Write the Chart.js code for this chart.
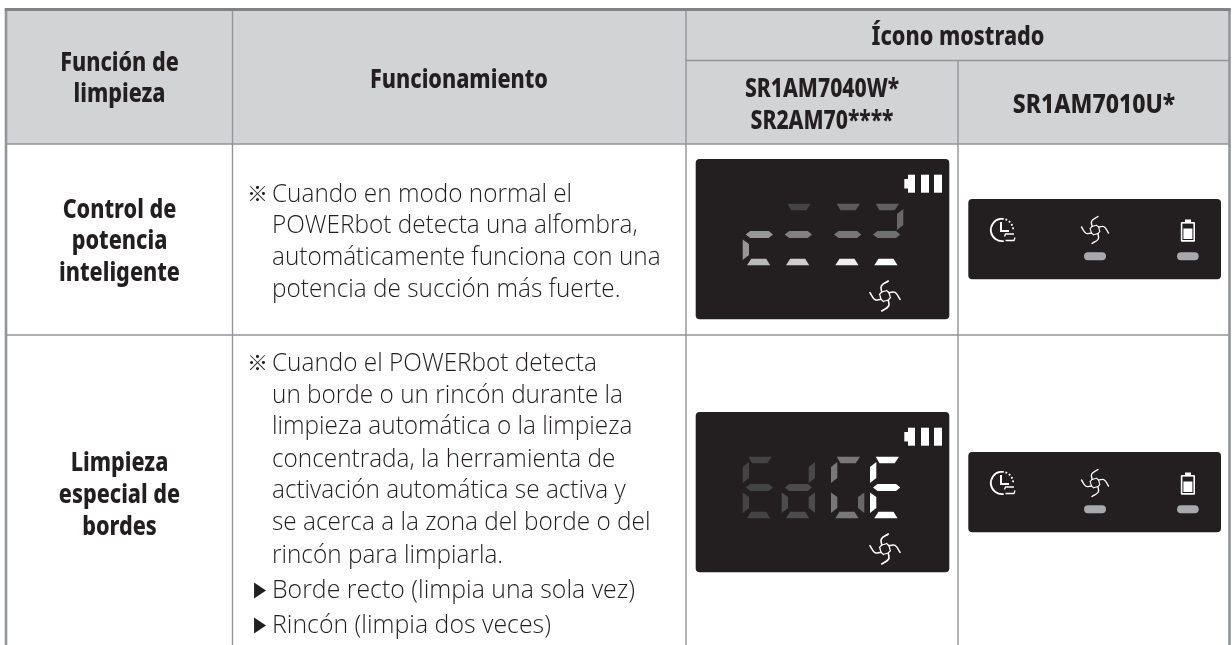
<!DOCTYPE html>
<html>
<head>
<meta charset="utf-8">
<style>
  html, body { margin: 0; padding: 0; background: #fff; }
  canvas { display: block; }
</style>
<script src="https://cdn.jsdelivr.net/npm/chart.js@4/dist/chart.umd.min.js"></script>
</head>
<body>
<canvas id="chart" width="1232" height="645"></canvas>
<script>
// Table text
const sectionHeader = ['Función de', 'limpieza'];
const workHeader = ['Funcionamiento'];
const iconHeader = ['Ícono mostrado'];
const modelsA = ['SR1AM7040W*', 'SR2AM70****'];
const modelsB = ['SR1AM7010U*'];
const rowOneLabel = ['Control de', 'potencia', 'inteligente'];
const rowTwoLabel = ['Limpieza', 'especial de', 'bordes'];
const rowOneText = [
  'Cuando en modo normal el',
  'POWERbot detecta una alfombra,',
  'automáticamente funciona con una',
  'potencia de succión más fuerte.'
];
const rowTwoText = [
  'Cuando el POWERbot detecta',
  'un borde o un rincón durante la',
  'limpieza automática o la limpieza',
  'concentrada, la herramienta de',
  'activación automática se activa y',
  'se acerca a la zona del borde o del',
  'rincón para limpiarla.'
];
const rowTwoBullets = ['Borde recto (limpia una sola vez)', 'Rincón (limpia dos veces)'];

// Grid lines of the table, in picture units
const columnEdges = [6, 232.5, 686, 958, 1229.5];
const rowEdges = [9.5, 60.5, 144, 335, 645];

// Brightness of each LED segment per digit: top, upper left, upper right, middle, lower left, lower right, bottom
const carpetDigits = [
  [0, 0, 0, 150, 150, 0, 185],
  [68, 0, 0, 128, 0, 0, 205],
  [90, 0, 0, 118, 0, 0, 238],
  [96, 0, 104, 112, 0, 0, 255]
];
const edgeDigits = [
  [68, 68, 0, 68, 68, 0, 68],
  [0, 0, 72, 76, 76, 76, 76],
  [120, 120, 0, 0, 120, 104, 120],
  [255, 255, 0, 255, 255, 0, 255]
];

const ink = '#231f20';
const headFill = '#d1d3d4';
const lineGrey = '#939598';
const pillGrey = '#a7a9ac';

const segmentShapes = [
  [[5.7, 44.7], [29, 44.7], [24.7, 51.3], [9.5, 51.3]],
  [[0, 55], [6.3, 50], [6.3, 66], [0, 71]],
  [[33.3, 50], [33.3, 66], [27, 71], [27, 55]],
  [[3, 75.5], [7.5, 72], [26, 72], [30.3, 75.5], [26, 79], [7.5, 79]],
  [[0, 80.5], [6.3, 85], [6.3, 96], [0, 101]],
  [[33.3, 80.5], [33.3, 101], [27, 96], [27, 85]],
  [[8.5, 99.7], [23.5, 99.7], [27.5, 106.3], [4.3, 106.3]]
];
const digitLefts = [742.7, 781.7, 831, 870];
const ledPanelTops = [159, 412];
const smallPanelTops = [199, 452];

function rect(x0, x1, y0, y1, color, radius) {
  return {
    type: 'bar',
    data: [{ x: (x0 + x1) / 2, y: [y0, y1] }],
    barThickness: x1 - x0,
    backgroundColor: color,
    borderWidth: 0,
    borderRadius: radius || 0,
    borderSkipped: false,
    grouped: false,
    inflateAmount: 0
  };
}

function stroke(points, width, color, curve) {
  return {
    type: 'scatter',
    data: points.map(p => ({ x: p[0], y: p[1] })),
    showLine: true,
    borderColor: color,
    borderWidth: width,
    borderCapStyle: 'round',
    tension: curve === undefined ? 0.45 : curve,
    pointRadius: 0
  };
}

// Four swirl blades around a centre, each with a short hook near the hub
function fan(cx, cy, k, w) {
  const blades = [
    [[-3.3, -4], [-3.6, -10], [3.3, -15]],
    [[4, -3.3], [10, -3.6], [15, 3.3]],
    [[3.3, 4], [3.6, 10], [-3.3, 15]],
    [[-4, 3.3], [-10, 3.6], [-15, -3.3]]
  ];
  const hooks = [
    [[-5.5, -1.5], [-3.3, -4], [0.5, -5]],
    [[1.5, -5.5], [4, -3.3], [5, 0.5]],
    [[5.5, 1.5], [3.3, 4], [-0.5, 5]],
    [[-1.5, 5.5], [-4, 3.3], [-5, -0.5]]
  ];
  const place = b => b.map(p => [cx + p[0] * k, cy + p[1] * k]);
  return [
    ...blades.map(b => stroke(place(b), w, '#fff')),
    ...hooks.map(b => stroke(place(b), w * 0.8, '#fff', 0))
  ];
}

const datasets = [];

// Everything is drawn in the order pushed (first on top is avoided with order numbers)
function addAll(list) {
  list.forEach(d => { d.order = 1000 - datasets.length; datasets.push(d); });
}

// Header band
addAll([rect(columnEdges[0], columnEdges[4], rowEdges[0], rowEdges[2], headFill)]);

// Grid
addAll([
  rect(columnEdges[0] - 1.3, columnEdges[0] + 1.3, rowEdges[0], rowEdges[4], lineGrey),
  rect(columnEdges[1] - 0.7, columnEdges[1] + 0.7, rowEdges[0], rowEdges[4], lineGrey),
  rect(columnEdges[2] - 0.7, columnEdges[2] + 0.7, rowEdges[0], rowEdges[4], lineGrey),
  rect(columnEdges[3] - 0.7, columnEdges[3] + 0.7, rowEdges[1], rowEdges[4], lineGrey),
  rect(columnEdges[4] - 1.3, columnEdges[4] + 1.3, rowEdges[0], rowEdges[4], lineGrey),
  rect(columnEdges[0] - 1.3, columnEdges[4] + 1.3, rowEdges[0] - 1.5, rowEdges[0] + 1.5, '#808285'),
  rect(columnEdges[2], columnEdges[4], rowEdges[1] - 0.7, rowEdges[1] + 0.7, lineGrey),
  rect(columnEdges[0], columnEdges[4], rowEdges[2] - 0.8, rowEdges[2] + 0.8, lineGrey),
  rect(columnEdges[0], columnEdges[4], rowEdges[3] - 0.8, rowEdges[3] + 0.8, lineGrey)
]);

// LED panels with battery bars and fan
ledPanelTops.forEach(top => {
  addAll([
    rect(695.7, 949.3, top, top + 160.3, ink, 4),
    rect(908, 915, top + 15.7, top + 33.7, '#fff'),
    rect(904.3, 908, top + 20, top + 29.5, '#fff'),
    rect(921, 929, top + 15.7, top + 33.7, '#fff'),
    rect(934, 942, top + 15.7, top + 33.7, '#fff'),
    ...fan(885, top + 137, 1, 1.6)
  ]);
});

// Small panels with fan, battery and indicator pills
smallPanelTops.forEach(top => {
  addAll([
    rect(968.3, 1221, top, top + 80.3, ink, 4),
    ...fan(1095, top + 31, 0.9, 1.4),
    rect(1084, 1106, top + 53.3, top + 61.3, pillGrey, 4),
    rect(1177, 1198.7, top + 53.3, top + 61.3, pillGrey, 4),
    rect(1185, 1191, top + 20.5, top + 23.5, '#fff'),
    rect(1180.8, 1195, top + 23, top + 42.7, '#fff', 1),
    rect(1182.4, 1193.4, top + 24.6, top + 41, ink),
    rect(1183.4, 1192.4, top + 29.5, top + 40, '#fff')
  ]);
});

function putText(ctx, chart, lines, xv, baselines, font, squeeze, align, color) {
  const sx = chart.scales.x;
  const sy = chart.scales.y;
  ctx.font = font;
  ctx.textAlign = align;
  ctx.textBaseline = 'alphabetic';
  ctx.fillStyle = color || ink;
  lines.forEach((t, i) => {
    const w = ctx.measureText(t).width;
    ctx.fillText(t, sx.getPixelForValue(xv), sy.getPixelForValue(baselines[i]), w * squeeze);
  });
}

const tablePainter = {
  id: 'tablePainter',
  afterDatasetsDraw(chart) {
    const ctx = chart.ctx;
    const sx = chart.scales.x;
    const sy = chart.scales.y;
    ctx.save();

    // LED segments
    const paintDigits = (levels, top) => {
      levels.forEach((digit, d) => {
        digit.forEach((level, s) => {
          if (!level) return;
          ctx.beginPath();
          segmentShapes[s].forEach((p, i) => {
            const px = sx.getPixelForValue(digitLefts[d] + p[0]);
            const py = sy.getPixelForValue(top + p[1]);
            if (i) ctx.lineTo(px, py); else ctx.moveTo(px, py);
          });
          ctx.closePath();
          ctx.fillStyle = `rgb(${level},${level},${level})`;
          ctx.fill();
        });
      });
    };
    paintDigits(carpetDigits, ledPanelTops[0]);
    paintDigits(edgeDigits, ledPanelTops[1]);

    // Clock icon on the small panels
    smallPanelTops.forEach(top => {
      const cx = sx.getPixelForValue(1002);
      const cy = sy.getPixelForValue(top + 31);
      ctx.strokeStyle = '#fff';
      ctx.lineWidth = 1.8;
      ctx.beginPath();
      ctx.arc(cx, cy, 11.2, Math.PI * 0.45, Math.PI * 1.55);
      ctx.stroke();
      ctx.setLineDash([1.8, 2]);
      ctx.beginPath();
      ctx.arc(cx, cy, 11.2, Math.PI * 1.6, Math.PI * 2.03);
      ctx.stroke();
      ctx.setLineDash([]);
      ctx.lineWidth = 2;
      ctx.beginPath();
      ctx.moveTo(cx - 1, cy - 8);
      ctx.lineTo(cx - 1, cy + 1);
      ctx.lineTo(cx + 7, cy + 1);
      ctx.stroke();
      ctx.lineWidth = 1.3;
      ctx.beginPath();
      ctx.moveTo(cx + 2.5, cy + 6.5);
      ctx.lineTo(cx + 3.5, cy + 4);
      ctx.lineTo(cx + 12, cy + 4);
      ctx.moveTo(cx + 13, cy + 7.5);
      ctx.lineTo(cx + 12, cy + 10.5);
      ctx.lineTo(cx + 3.5, cy + 10.5);
      ctx.stroke();
    });

    const headFont = '800 27px "Noto Sans"';
    const bodyFont = '300 25.5px "Open Sans"';
    const headSqueeze = 0.8;
    const bodySqueeze = 0.955;

    putText(ctx, chart, sectionHeader, 119.5, [71, 102], headFont, headSqueeze, 'center');
    putText(ctx, chart, workHeader, 459, [87.5], headFont, headSqueeze, 'center');
    putText(ctx, chart, iconHeader, 958, [45], headFont, headSqueeze, 'center');
    putText(ctx, chart, modelsA, 822, [96.7, 129.3], headFont, 0.78, 'center');
    putText(ctx, chart, modelsB, 1094, [112.7], headFont, 0.85, 'center');
    putText(ctx, chart, rowOneLabel, 119.5, [218, 248.5, 281], headFont, headSqueeze, 'center');
    putText(ctx, chart, rowTwoLabel, 119.5, [470.7, 502.7, 534.7], headFont, headSqueeze, 'center');

    putText(ctx, chart, rowOneText, 272, [201.7, 233.3, 265, 296.7], bodyFont, bodySqueeze, 'left');
    putText(ctx, chart, rowTwoText, 272, [370.7, 402.7, 434.3, 466.7, 498.3, 530, 562.7], bodyFont, bodySqueeze, 'left');
    putText(ctx, chart, rowTwoBullets, 272, [598, 633], bodyFont, 0.975, 'left');

    putText(ctx, chart, ['※'], 247, [200.5], '500 21px "Noto Sans CJK JP"', 1, 'left');
    putText(ctx, chart, ['※'], 247, [369.5], '500 21px "Noto Sans CJK JP"', 1, 'left');
    putText(ctx, chart, ['▶', '▶'], 254, [595.5, 630.5], '21px "DejaVu Sans"', 0.75, 'left');

    ctx.restore();
  }
};

new Chart(document.getElementById('chart').getContext('2d'), {
  type: 'bar',
  data: { datasets },
  options: {
    responsive: false,
    animation: false,
    layout: { padding: 0 },
    plugins: { legend: { display: false }, tooltip: { enabled: false } },
    events: [],
    scales: {
      x: { type: 'linear', min: 0, max: 1232, offset: false, display: false, grid: { display: false } },
      y: { type: 'linear', min: 0, max: 645, reverse: true, display: false, grid: { display: false } }
    }
  },
  plugins: [tablePainter]
});
</script>
</body>
</html>
